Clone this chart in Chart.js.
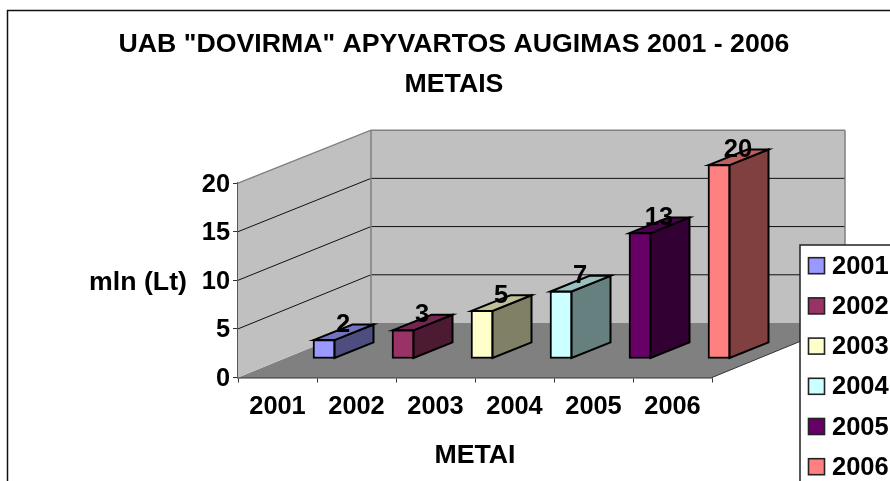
<!DOCTYPE html>
<html>
<head>
<meta charset="utf-8">
<title>UAB DOVIRMA</title>
<script src="https://cdn.jsdelivr.net/npm/chart.js@4"></script>
<style>
    html, body { margin: 0; padding: 0; width: 890px; height: 481px; overflow: hidden; background: #fff; }
    #wrap { position: absolute; left: 0; top: 0; width: 908px; height: 500px; }
</style>
</head>
<body>
<div id="wrap"><canvas id="chart" width="908" height="500"></canvas></div>
<script>
var years = ['2001', '2002', '2003', '2004', '2005', '2006'];
var turnover = [2, 3, 5, 7, 13, 20];
var titleLines = ['UAB "DOVIRMA" APYVARTOS AUGIMAS 2001 - 2006', 'METAIS'];
var barColors = ['#9999ff', '#993366', '#ffffcc', '#ccffff', '#660066', '#ff8080'];
var topColors = ['#7373bf', '#732650', '#bfbf99', '#99bfbf', '#4d004d', '#bf6060'];
var sideColors = ['#4d4d80', '#4d1a33', '#808066', '#668080', '#330033', '#804040'];

var FONT = '"Liberation Sans", Arial, sans-serif';

// 3D look: how far the back wall sits from the front, and where the bars stand in between
var WALL_DX = 133, WALL_DY = -54.5, BACK_SCALE = 0.992;
var BAR_DX = 46.5, BAR_DY = -18.5;
var SIDE_DX = 39, SIDE_DY = -15.6;

function polygon(ctx, pts, fill) {
    ctx.beginPath();
    pts.forEach(function(p, i) {
        if (i === 0) { ctx.moveTo(p[0], p[1]); } else { ctx.lineTo(p[0], p[1]); }
    });
    ctx.closePath();
    ctx.fillStyle = fill;
    ctx.fill();
}

function outlined(ctx, pts, fill) {
    polygon(ctx, pts, fill);
    ctx.strokeStyle = '#000';
    ctx.lineWidth = 2;
    ctx.stroke();
}

var scene3d = {
    id: 'scene3d',

    beforeDraw: function(chart) {
        // chart frame, runs past the right and bottom of the window like the original crop
        var ctx = chart.ctx;
        ctx.save();
        ctx.strokeStyle = '#111';
        ctx.lineWidth = 1.5;
        ctx.strokeRect(7.5, 10.5, 893, 480);
        ctx.restore();
    },

    beforeDatasetsDraw: function(chart) {
        var ctx = chart.ctx, a = chart.chartArea, y = chart.scales.y;
        var bl = a.left + WALL_DX, br = a.right + WALL_DX;
        var front = y.getPixelForValue(0), top = y.getPixelForValue(20);
        var backBottom = front + WALL_DY;

        function backY(v) {
            return backBottom + (y.getPixelForValue(v) - front) * BACK_SCALE;
        }

        ctx.save();
        // floor and walls
        polygon(ctx, [[a.left, front], [a.right, front], [br, backBottom], [bl, backBottom]], '#808080');
        polygon(ctx, [[a.left, front], [a.left, top], [bl, backY(20)], [bl, backBottom]], '#c0c0c0');
        polygon(ctx, [[bl, backBottom], [bl, backY(20)], [br, backY(20)], [br, backBottom]], '#c0c0c0');

        // gridlines run along the side wall and across the back wall
        [5, 10, 15, 20].forEach(function(v) {
            ctx.beginPath();
            ctx.moveTo(a.left, y.getPixelForValue(v));
            ctx.lineTo(bl, backY(v));
            ctx.lineTo(br, backY(v));
            ctx.strokeStyle = v === 20 ? '#808080' : '#111';
            ctx.lineWidth = v === 20 ? 1.5 : 1;
            ctx.stroke();
        });
        ctx.beginPath();
        ctx.moveTo(bl, backBottom);
        ctx.lineTo(bl, backY(20));
        ctx.moveTo(br, backBottom);
        ctx.lineTo(br, backY(20));
        ctx.strokeStyle = '#808080';
        ctx.lineWidth = 1.5;
        ctx.stroke();

        // front right edge of the floor
        ctx.beginPath();
        ctx.moveTo(a.right, front);
        ctx.lineTo(br, backBottom);
        ctx.strokeStyle = '#333';
        ctx.lineWidth = 1;
        ctx.stroke();
        ctx.restore();
    },

    beforeDatasetDraw: function(chart) {
        var ctx = chart.ctx;
        ctx.save();
        ctx.translate(BAR_DX, BAR_DY);

        // side and top faces behind each bar
        chart.getDatasetMeta(0).data.forEach(function(bar, i) {
            var l = bar.x - bar.width / 2 + 0.5, r = bar.x + bar.width / 2 - 0.5;
            var t = bar.y + 0.5, b = bar.base - 0.5;
            outlined(ctx, [[r, t], [r + SIDE_DX, t + SIDE_DY], [r + SIDE_DX, b + SIDE_DY], [r, b]], sideColors[i]);
            outlined(ctx, [[l, t], [l + SIDE_DX, t + SIDE_DY], [r + SIDE_DX, t + SIDE_DY], [r, t]], topColors[i]);
        });
    },

    afterDatasetDraw: function(chart) {
        chart.ctx.restore();
    },

    afterDatasetsDraw: function(chart) {
        var ctx = chart.ctx;
        ctx.save();
        ctx.fillStyle = '#000';
        ctx.textAlign = 'center';
        ctx.textBaseline = 'middle';

        // value labels on top of the bars
        ctx.font = 'bold 25.5px ' + FONT;
        chart.getDatasetMeta(0).data.forEach(function(bar, i) {
            ctx.fillText(String(turnover[i]), bar.x + BAR_DX + 19, bar.y + BAR_DY - 14.5);
        });

        // horizontal y axis title
        ctx.font = 'bold 26.7px ' + FONT;
        ctx.fillText('mln (Lt)', 138, 283);

        // legend box
        ctx.fillStyle = '#fff';
        ctx.fillRect(800, 245, 120, 260);
        ctx.strokeStyle = '#222';
        ctx.lineWidth = 1.5;
        ctx.strokeRect(800, 245, 120, 260);
        ctx.textAlign = 'left';
        ctx.font = 'bold 25.5px ' + FONT;
        years.forEach(function(year, i) {
            var cy = 265.7 + i * 40.2;
            ctx.fillStyle = barColors[i];
            ctx.fillRect(808.5, cy - 8, 16, 16);
            ctx.strokeStyle = '#222';
            ctx.lineWidth = 1.6;
            ctx.strokeRect(808.5, cy - 8, 16, 16);
            ctx.fillStyle = '#000';
            ctx.fillText(year, 832, cy + 1);
        });
        ctx.restore();
    }
};

new Chart(document.getElementById('chart').getContext('2d'), {
    type: 'bar',
    data: {
        labels: years,
        datasets: [{
            label: 'mln (Lt)',
            data: turnover,
            backgroundColor: barColors,
            borderColor: '#000',
            borderWidth: 2,
            borderSkipped: false,
            barThickness: 22,
            clip: false
        }]
    },
    options: {
        responsive: false,
        animation: false,
        events: [],
        plugins: {
            legend: { display: false },
            tooltip: { enabled: false },
            title: {
                display: true,
                text: titleLines,
                color: '#000',
                font: { family: FONT, size: 26.7, weight: 'bold', lineHeight: 1.5 },
                padding: { top: 25, bottom: 78 }
            }
        },
        scales: {
            x: {
                grid: { drawOnChartArea: false, color: '#333', tickLength: 5, offset: true },
                border: { color: '#333', width: 1.5 },
                ticks: {
                    color: '#000',
                    font: { family: FONT, size: 25.4, weight: 'bold' },
                    padding: 9,
                    maxRotation: 0,
                    autoSkip: false
                },
                title: {
                    display: true,
                    text: 'METAI',
                    color: '#000',
                    font: { family: FONT, size: 26.7, weight: 'bold' },
                    padding: { top: 0, bottom: 28 }
                },
                afterFit: function(scale) { scale.height = 122.5; }
            },
            y: {
                min: 0,
                max: 20,
                grid: { drawOnChartArea: false, color: '#333', tickLength: 5 },
                border: { color: '#555', width: 1.5 },
                ticks: {
                    stepSize: 5,
                    color: '#000',
                    font: { family: FONT, size: 25.4, weight: 'bold' },
                    padding: 3,
                    labelOffset: 1.5
                },
                afterFit: function(scale) { scale.width = 238; }
            },
            // empty axis, only keeps the space right of the plot so the title stays centred on the frame
            spacer: {
                type: 'linear',
                position: 'right',
                grid: { display: false },
                border: { display: false },
                ticks: { display: false },
                afterFit: function(scale) { scale.width = 196; }
            }
        }
    },
    plugins: [scene3d]
});
</script>
</body>
</html>
